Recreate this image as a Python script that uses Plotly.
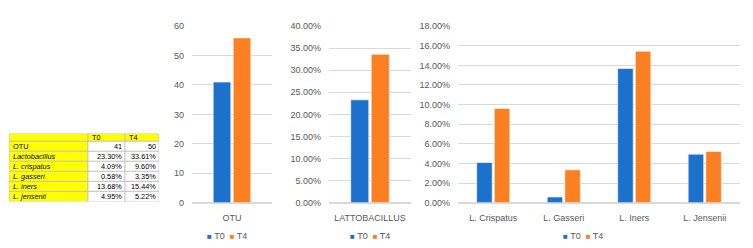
import plotly.graph_objects as go

# ---- data ----
series = ["T0", "T4"]
otu_cats = ["OTU"]
otu_t0 = [41]
otu_t4 = [56]
lacto_cats = ["LATTOBACILLUS"]
lacto_t0 = [0.2330]
lacto_t4 = [0.3361]
species_cats = ["L. Crispatus", "L. Gasseri", "L. Iners", "L. Jensenii"]
species_t0 = [0.0409, 0.0058, 0.1368, 0.0495]
species_t4 = [0.0960, 0.0335, 0.1544, 0.0522]

table_header = ["", "T0", "T4"]
table_rows = ["OTU", "<i>Lactobacillus</i>", "<i>L. crispatus</i>", "<i>L. gasseri</i>",
              "<i>L. iners</i>", "<i>L. jensenii</i>"]
table_t0 = ["41", "23.30%", "4.09%", "0.58%", "13.68%", "4.95%"]
table_t4 = ["50", "33.61%", "9.60%", "3.35%", "15.44%", "5.22%"]

BLUE = "#1C71CD"
ORANGE = "#FC7F22"
GRID = "#D9D9D9"
TXT = "#595959"
FONT = "Liberation Sans"
YELLOW = "#FFFF00"
TLINE = "#BFBFBF"

W, H = 753, 248
def px(x): return x / W
def py(y): return 1 - y / H

fig = go.Figure()

charts = [
    (otu_cats, otu_t0, otu_t4, "x", "y"),
    (lacto_cats, lacto_t0, lacto_t4, "x2", "y2"),
    (species_cats, species_t0, species_t4, "x3", "y3"),
]
for cats, v0, v4, xa, ya in charts:
    for name, vals, col in ((series[0], v0, BLUE), (series[1], v4, ORANGE)):
        fig.add_trace(go.Bar(x=cats, y=vals, name=name, xaxis=xa, yaxis=ya,
                             marker=dict(color=col, line=dict(color="white", width=0.6)),
                             showlegend=False, hoverinfo="skip"))

# ---- table drawn on its own axis pair (units: table pixels) ----
col_w = [79, 37, 34]
head_h = 8
row_h = 10.45
columns = [[table_header[0]] + table_rows, [table_header[1]] + table_t0, [table_header[2]] + table_t4]
n_rows = len(table_rows) + 1
row_tops = [0] + [head_h + i * row_h for i in range(len(table_rows))]
row_bots = [head_h] + [head_h + (i + 1) * row_h for i in range(len(table_rows))]
tot_w = sum(col_w)
tot_h = row_bots[-1]
x0s = [sum(col_w[:j]) for j in range(3)]
for j in range(3):
    for r in range(n_rows):
        fill = YELLOW if (r == 0 or j == 0) else "white"
        fig.add_shape(type="rect", xref="x4", yref="y4",
                      x0=x0s[j], x1=x0s[j] + col_w[j], y0=row_tops[r], y1=row_bots[r],
                      fillcolor=fill, line=dict(color=TLINE, width=0.8), layer="below")
        txt = columns[j][r]
        if not txt:
            continue
        right = (j > 0 and r > 0)
        fig.add_annotation(xref="x4", yref="y4",
                           x=(x0s[j] + col_w[j] - 1.5) if right else (x0s[j] + 1.5),
                           xanchor="right" if right else "left",
                           y=(row_tops[r] + row_bots[r]) / 2, yanchor="middle",
                           text=txt, showarrow=False,
                           font=dict(family=FONT, size=7.3, color="black"))

ydom = [py(206), py(22)]
common_y = dict(showgrid=True, gridcolor=GRID, gridwidth=1, zeroline=True, zerolinecolor=GRID,
                showline=False, ticks="", tickfont=dict(family=FONT, size=9, color=TXT),
                domain=ydom, fixedrange=True, ticklabelstandoff=7)
common_x = dict(showline=False, showgrid=False, ticks="",
                tickfont=dict(family=FONT, size=9, color=TXT), fixedrange=True,
                ticklabelstandoff=8)

fig.update_layout(
    width=W, height=H, margin=dict(l=0, r=0, t=0, b=0),
    paper_bgcolor="white", plot_bgcolor="white",
    barmode="group", bargap=0.5, bargroupgap=0.12,
    xaxis=dict(domain=[px(192), px(272)], anchor="y", **common_x),
    yaxis=dict(range=[0, 60], dtick=10, anchor="x", **common_y),
    xaxis2=dict(domain=[px(329), px(411)], anchor="y2", **common_x),
    yaxis2=dict(range=[0, 0.40], dtick=0.05, tickformat=".2%", anchor="x2", **common_y),
    xaxis3=dict(domain=[px(458), px(740)], anchor="y3", **common_x),
    yaxis3=dict(range=[0, 0.18], dtick=0.02, tickformat=".2%", anchor="x3", **common_y),
    xaxis4=dict(domain=[px(9), px(9 + tot_w)], range=[0, tot_w], visible=False,
                anchor="y4", fixedrange=True),
    yaxis4=dict(domain=[py(134 + tot_h), py(134)], range=[tot_h, 0], visible=False,
                anchor="x4", fixedrange=True),
    font=dict(family=FONT, color=TXT),
)

legend_text = (f"<span style='color:{BLUE};font-size:8px'>■</span> {series[0]}  "
               f"<span style='color:{ORANGE};font-size:8px'>■</span> {series[1]}")
for cx in (227, 370, 583):
    fig.add_annotation(x=px(cx), y=py(241), xref="paper", yref="paper",
                       xanchor="center", yanchor="middle",
                       text=legend_text, showarrow=False,
                       font=dict(family=FONT, size=9, color=TXT))

fig.write_html("out.html")
